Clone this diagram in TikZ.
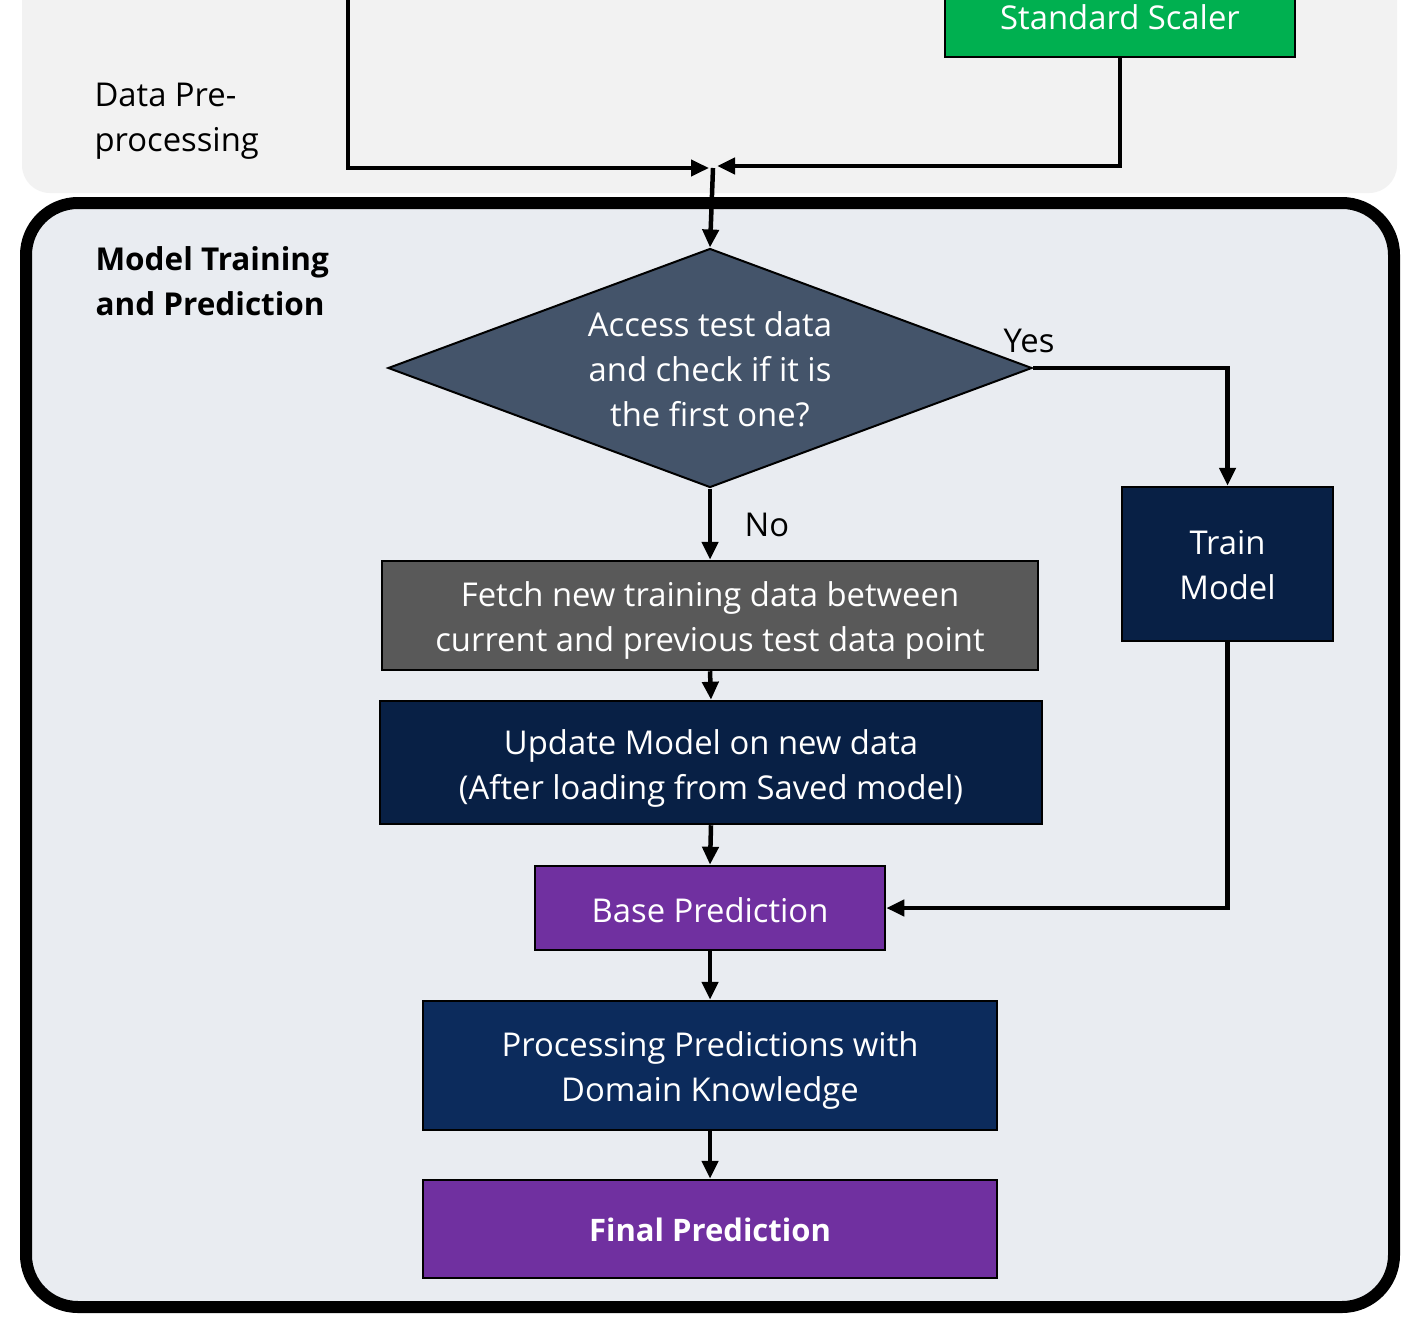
\documentclass[tikz,border=0pt]{standalone}
\usepackage{fontspec}
\setmainfont{Open Sans}
\usetikzlibrary{arrows.meta,shapes.geometric}
\definecolor{topbg}{HTML}{F2F2F2}
\definecolor{botbg}{HTML}{E9ECF1}
\definecolor{scalergreen}{HTML}{00B050}
\definecolor{decblue}{HTML}{44546A}
\definecolor{navy}{HTML}{082045}
\definecolor{navytwo}{HTML}{0C2B5C}
\definecolor{fetchgray}{HTML}{595959}
\definecolor{predpurple}{HTML}{7030A0}
\begin{document}
\begin{tikzpicture}[x=1pt,y=-1pt,
  txt/.style={font=\fontsize{32.8}{45}\selectfont},
  bold/.style={font=\fontsize{31.5}{45}\selectfont\bfseries},
  box/.style={draw=black, line width=2.5pt, inner sep=0pt},
  boxtext/.style={text=white, align=center, inner sep=0pt, txt},
  conn/.style={draw=black, line width=4.5pt, -{Triangle[length=18pt,width=16pt]}}
]
\useasboundingbox (0,0) rectangle (1420,1316);
\clip (0,0) rectangle (1420,1316);
\fill[white] (0,0) rectangle (1420,1316);
% panels
\fill[topbg, rounded corners=28pt] (22,-80) rectangle (1397,193);
\draw[line width=12pt, fill=botbg, rounded corners=52pt] (26,203) rectangle (1394,1307);
% labels
\node[txt, anchor=west, align=left, text=black] (prelabel) at (91,121) {Data Pre-\\processing};
\node[bold, anchor=west, align=left, text=black] (mtlabel) at (92,281) {Model Training\\and Prediction};
% shapes
\node[box, fill=scalergreen, minimum width=350pt, minimum height=82pt] (scaler) at (1120,16) {};
\node[shape=diamond, draw=black, line width=2pt, fill=decblue, inner sep=0pt, aspect=2.69, minimum width=644pt, minimum height=239pt] (dec) at (710,368) {};
\node[box, fill=navy, minimum width=211pt, minimum height=154pt] (train) at (1227.5,564) {};
\node[box, fill=fetchgray, minimum width=656pt, minimum height=109pt] (fetch) at (710,615.5) {};
\node[box, fill=navy, minimum width=662pt, minimum height=123pt] (update) at (711,762.5) {};
\node[box, fill=predpurple, minimum width=350pt, minimum height=84pt] (base) at (710,908) {};
\node[box, fill=navytwo, minimum width=574pt, minimum height=129pt] (proc) at (710,1065.5) {};
\node[box, fill=predpurple, minimum width=574pt, minimum height=98pt] (final) at (710,1229) {};
% texts in shapes
\node[boxtext] (scalertext) at ([yshift=-1pt]scaler.center) {Standard Scaler};
\node[boxtext] (dectext) at ([yshift=-1pt]dec.center) {Access test data\\and check if it is\\the first one?};
\node[boxtext] (traintext) at ([yshift=-1pt]train.center) {Train\\Model};
\node[boxtext] (fetchtext) at ([yshift=-5pt]fetch.center) {Fetch new training data between\\current and previous test data point};
\node[boxtext] (updatetext) at ([yshift=-6pt]update.center) {Update Model on new data\\(After loading from Saved model)};
\node[boxtext] (basetext) at ([yshift=-2pt]base.center) {Base Prediction};
\node[boxtext] (proctext) at ([yshift=-5pt]proc.center) {Processing Predictions with\\Domain Knowledge};
\node[boxtext, font=\fontsize{31}{45}\selectfont\bfseries] (finaltext) at ([yshift=-1pt]final.center) {Final Prediction};
% junction coordinates
\coordinate (tl) at (348,-20);
\coordinate (jl) at (709,168);
\coordinate (jr) at (717,166);
\coordinate (jc) at (713,168);
% connectors
\draw[conn] (tl) |- (jl);
\draw[conn] (scaler.south) |- (jr);
\draw[conn] (jc) -- (dec.north);
\draw[conn] (dec.east) -| (train.north);
\node[txt, text=black] (yes) at (1029,341) {Yes};
\draw[conn] (dec.south) -- (fetch.north);
\node[txt, text=black] (no) at (767,525) {No};
\draw[conn] (fetch.south) -- (update.north);
\draw[conn] (update.south) -- (base.north);
\draw[conn] (train.south) |- (base.east);
\draw[conn] (base.south) -- (proc.north);
\draw[conn] (proc.south) -- (final.north);
\end{tikzpicture}
\end{document}
